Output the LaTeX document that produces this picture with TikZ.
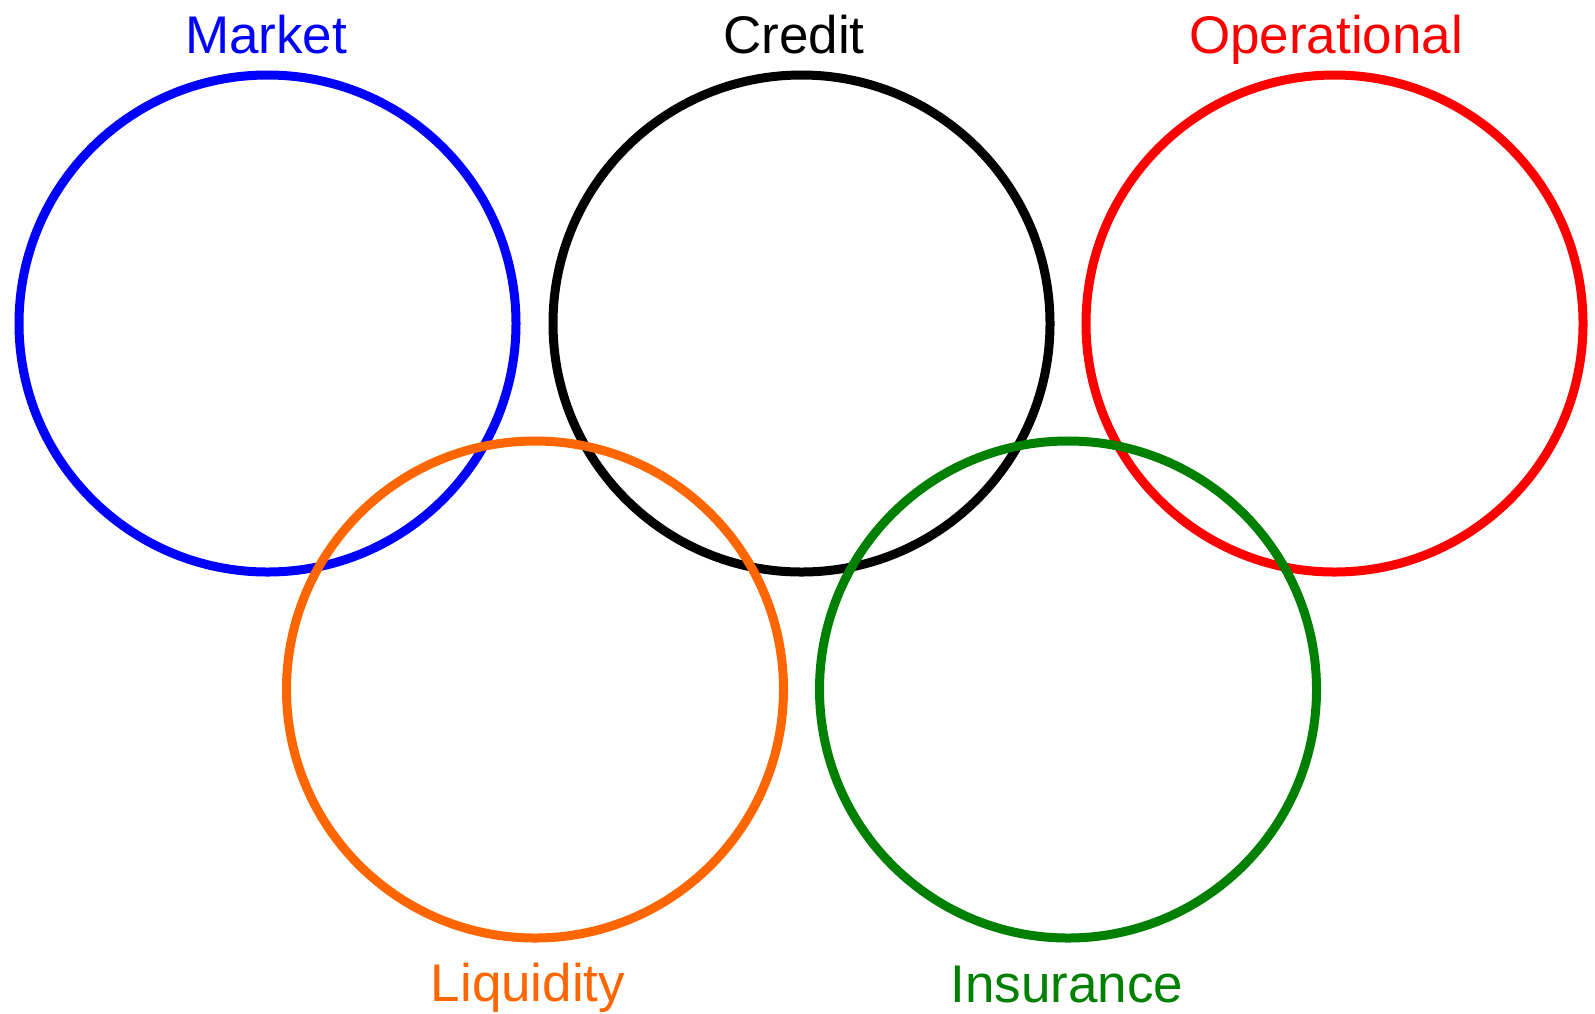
\documentclass[tikz,border=0pt]{standalone}
\usepackage{fontspec}
\setmainfont{Liberation Sans}
\definecolor{mkblue}{HTML}{0000FF}
\definecolor{opred}{HTML}{FF0000}
\definecolor{liqorange}{HTML}{FF6600}
\definecolor{insgreen}{HTML}{008000}
\begin{document}
\begin{tikzpicture}[x=1pt,y=-1pt,
  ring/.style={circle,draw,line width=9pt,inner sep=0pt,minimum size=497pt},
  label/.style={anchor=base,inner sep=0pt,font=\fontsize{53}{60}\selectfont}]
\useasboundingbox (0,0) rectangle (1595,1013);
% top row
\node[ring,draw=mkblue] (market) at (267.5,323.5) {};
\node[ring,draw=black] (credit) at (801.5,323.5) {};
\node[ring,draw=opred] (oper) at (1334.5,323.5) {};
% bottom row, drawn over the top row
\node[ring,draw=liqorange] (liq) at (535,689.5) {};
\node[ring,draw=insgreen] (ins) at (1068,689.5) {};
% names
\node[label,text=mkblue] (tmarket) at (266,53) {Market};
\node[label,text=black] (tcredit) at (794,53) {Credit};
\node[label,text=opred] (toper) at (1326,53) {Operational};
\node[label,text=liqorange] (tliq) at (528,1001) {Liquidity};
\node[label,text=insgreen] (tins) at (1067,1002) {Insurance};
\end{tikzpicture}
\end{document}
